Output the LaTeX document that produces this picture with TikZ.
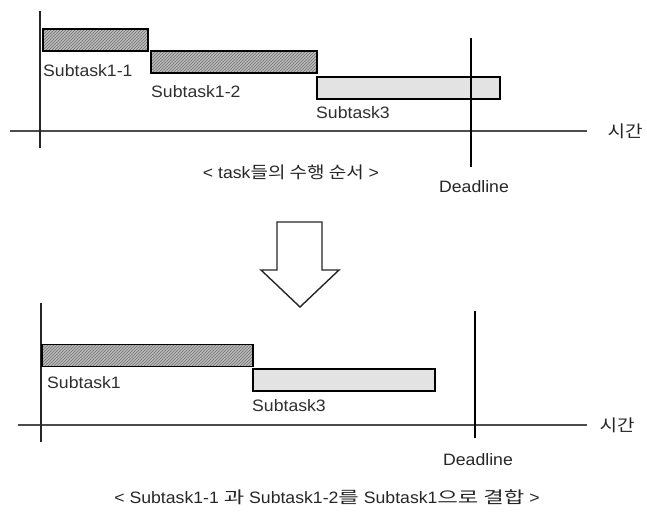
\documentclass[tikz,border=0pt]{standalone}
\usepackage{fontspec}
\setmainfont[FakeStretch=1.07]{Liberation Sans}
\newfontfamily\kr[FakeStretch=1.35]{Noto Sans CJK KR}
\newfontfamily\krn[FakeStretch=1.15]{Noto Sans CJK KR}
\usetikzlibrary{patterns}
\tikzset{
  hatchbox/.style={draw=black, line width=1.4pt, preaction={fill=gray!55}, pattern=north east lines, pattern color=black!55, minimum height=22pt, inner sep=0pt, outer sep=0pt},
  dotbox/.style={draw=black, line width=1.4pt, fill=gray!22, minimum height=22pt, inner sep=0pt, outer sep=0pt},
  lbl/.style={anchor=west, inner sep=0pt, text=black!82, font=\fontsize{16.5}{18}\selectfont},
  captext/.style={inner sep=0pt, text=black!85, font=\fontsize{16.5}{18}\selectfont},
  timeaxis/.style={draw=black!70, line width=2pt},
  yaxis/.style={draw=black!85, line width=1.8pt},
  deadline/.style={draw=black, line width=2.6pt},
  bigarrow/.style={draw=black!85, line width=1.4pt, fill=white, line join=miter}
}
\begin{document}
\begin{tikzpicture}[x=1pt,y=-1pt]
\useasboundingbox (0,0) rectangle (647,525);
% ---------- top ----------
\coordinate (ax1l) at (10,131);
\coordinate (ax1r) at (587,131);
\coordinate (v1t) at (40,11);
\coordinate (v1b) at (40,148);
\draw[timeaxis] (ax1l) -- (ax1r);
\draw[yaxis] (v1t) -- (v1b);
\node[hatchbox, minimum width=105pt] (s11) at (95.5,40) {};
\node[hatchbox, minimum width=166pt] (s12) at (234,62) {};
\node[dotbox, minimum width=183pt] (s3) at (408.5,88) {};
\node[lbl] (l11) at (43,71) {Subtask1-1};
\node[lbl] (l12) at (151,92) {Subtask1-2};
\node[lbl] (l3) at (316,113) {Subtask3};
\coordinate (d1t) at (471,38);
\coordinate (d1b) at (471,167);
\draw[deadline] (d1t) -- (d1b);
\node[captext] (dl1) at (474,187) {Deadline};
\node[captext] (t1) at (625,131) {\krn 시간};
\node[captext] (c1) at (291,172) {< task{\krn 들의 수행 순서} >};
% ---------- arrow ----------
\draw[bigarrow] (277,222) -- (322,222) -- (322,270) -- (339,270) -- (300,307) -- (261,270) -- (277,270) -- cycle;
% ---------- bottom ----------
\coordinate (ax2l) at (18,425);
\coordinate (ax2r) at (587,425);
\coordinate (v2t) at (41,303);
\coordinate (v2b) at (41,442);
\draw[timeaxis] (ax2l) -- (ax2r);
\draw[yaxis] (v2t) -- (v2b);
\node[hatchbox, minimum width=211pt] (s1) at (147.5,355.5) {};
\node[dotbox, minimum width=182pt] (s3b) at (344,380) {};
\node[lbl] (l1) at (47,383) {Subtask1};
\node[lbl] (l3b) at (252,406) {Subtask3};
\coordinate (d2t) at (475,311);
\coordinate (d2b) at (475,438);
\draw[deadline] (d2t) -- (d2b);
\node[captext] (dl2) at (478,460) {Deadline};
\node[captext] (t2) at (617,425) {\krn 시간};
\node[captext] (c2) at (327,497) {< Subtask1-1 {\kr 과} Subtask1-2{\kr 를} Subtask1{\kr 으로 결합} >};
\end{tikzpicture}
\end{document}
